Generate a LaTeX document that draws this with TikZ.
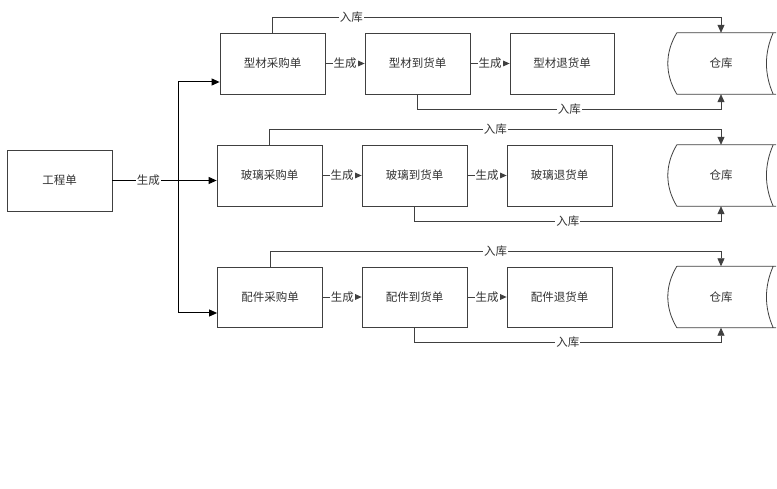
\documentclass[tikz,border=0pt]{standalone}
\usepackage{fontspec}
\usepackage{tikz}
\usetikzlibrary{arrows.meta, positioning, calc}
\newfontfamily\cjk{Noto Sans CJK SC}

\begin{document}
\begin{tikzpicture}[x=1pt, y=-1pt,
        txt/.style={font=\cjk\fontsize{11.5}{13}\selectfont, text=black!80},
        box/.style={txt, draw=black!75, line width=0.8pt, minimum width=105pt, minimum height=61pt, inner sep=0pt},
        store/.style={txt, minimum width=104pt, minimum height=61pt, inner sep=0pt},
        line/.style={draw=black!75, line width=0.8pt},
        link/.style={line, -{Triangle[length=8pt, width=7pt]}},
        feed/.style={link, draw=black, line width=1pt},
        lbl/.style={txt, fill=white, inner sep=1pt}]
        \path[fill=white] (0,0) rectangle (777,489);

        % order
        \node (proj) at (59.5,180.5) [box] {工程单};
        \coordinate (fork) at (178,180.5);

        % profiles
        \node (a1) at (272.5,63.5) [box] {型材采购单};
        \node (b1) at (417.5,63.5) [box] {型材到货单};
        \node (c1) at (562,63.5) [box, minimum width=104pt] {型材退货单};
        \node (s1) at (721,63.5) [store] {仓库};

        % glass
        \node (a2) at (269.5,175.5) [box] {玻璃采购单};
        \node (b2) at (414.5,175.5) [box] {玻璃到货单};
        \node (c2) at (559.5,175.5) [box] {玻璃退货单};
        \node (s2) at (721,175.5) [store] {仓库};

        % fittings
        \node (a3) at (270,297) [box, minimum height=60pt] {配件采购单};
        \node (b3) at (414.5,297) [box, minimum height=60pt] {配件到货单};
        \node (c3) at (559.5,297) [box, minimum height=60pt] {配件退货单};
        \node (s3) at (721,297) [store] {仓库};

        % storage outlines
        \draw[line] ($(s1.north west)+(8,0)$) -- ($(s1.north east)+(3,0)$) ($(s1.south west)+(8,0)$) -- ($(s1.south east)+(3,0)$)
            ($(s1.north west)+(8,0)$) .. controls ($(s1.west)+(-4,-10.5)$) and ($(s1.west)+(-4,10.5)$) .. ($(s1.south west)+(8,0)$)
            (s1.north east) .. controls ($(s1.east)+(-9,-10.5)$) and ($(s1.east)+(-9,10.5)$) .. (s1.south east);
        \draw[line] ($(s2.north west)+(8,0)$) -- ($(s2.north east)+(3,0)$) ($(s2.south west)+(8,0)$) -- ($(s2.south east)+(3,0)$)
            ($(s2.north west)+(8,0)$) .. controls ($(s2.west)+(-4,-10.5)$) and ($(s2.west)+(-4,10.5)$) .. ($(s2.south west)+(8,0)$)
            (s2.north east) .. controls ($(s2.east)+(-9,-10.5)$) and ($(s2.east)+(-9,10.5)$) .. (s2.south east);
        \draw[line] ($(s3.north west)+(8,0)$) -- ($(s3.north east)+(3,0)$) ($(s3.south west)+(8,0)$) -- ($(s3.south east)+(3,0)$)
            ($(s3.north west)+(8,0)$) .. controls ($(s3.west)+(-4,-10.5)$) and ($(s3.west)+(-4,10.5)$) .. ($(s3.south west)+(8,0)$)
            (s3.north east) .. controls ($(s3.east)+(-9,-10.5)$) and ($(s3.east)+(-9,10.5)$) .. (s3.south east);

        % from the order
        \draw[feed, -] (proj.east) -- node[lbl, pos=0.55] {生成} (fork);
        \draw[feed] (fork) |- ([yshift=-18.5pt]a1.west);
        \draw[feed] (fork) -- (a2.west |- fork);
        \draw[feed] (fork) |- ([yshift=-16pt]a3.west);

        % row links
        \draw[link] (a1.east) -- node[lbl] {生成} (b1.west);
        \draw[link] (b1.east) -- node[lbl] {生成} (c1.west);
        \draw[link] (a1.north) -- ++(0,-15) coordinate (t1) -- node[lbl, pos=0.176] {入库} (t1 -| s1.north) -- (s1.north);
        \draw[link] (b1.south) -- ++(0,15) coordinate (u1) -- node[lbl] {入库} (u1 -| s1.south) -- (s1.south);

        \draw[link] (a2.east) -- node[lbl] {生成} (b2.west);
        \draw[link] (b2.east) -- node[lbl] {生成} (c2.west);
        \draw[link] (a2.north) -- ++(0,-15) coordinate (t2) -- node[lbl] {入库} (t2 -| s2.north) -- (s2.north);
        \draw[link] (b2.south) -- ++(0,15) coordinate (u2) -- node[lbl] {入库} (u2 -| s2.south) -- (s2.south);

        \draw[link] (a3.east) -- node[lbl] {生成} (b3.west);
        \draw[link] (b3.east) -- node[lbl] {生成} (c3.west);
        \draw[link] (a3.north) -- ++(0,-15) coordinate (t3) -- node[lbl] {入库} (t3 -| s3.north) -- (s3.north);
        \draw[link] (b3.south) -- ++(0,15) coordinate (u3) -- node[lbl] {入库} (u3 -| s3.south) -- (s3.south);
    \end{tikzpicture}
\end{document}
